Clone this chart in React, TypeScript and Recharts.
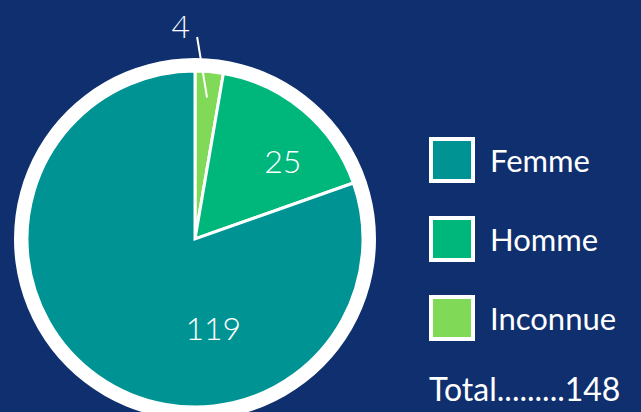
import { PieChart, Pie, Cell, Legend } from "recharts";

const categories = ["Inconnue", "Homme", "Femme"];
const values = [4, 25, 119];
const colors = ["#80d957", "#00b77b", "#009394"];
const legendOrder = ["Femme", "Homme", "Inconnue"];
const totalLabel = "Total.........148";

const data = categories.map((name, i) => ({ name, value: values[i] }));
const ring = [{ name: "ring", value: 1 }];

const BG = "#0f2f6e";
const RAD = Math.PI / 180;

// Excel-like "best fit" placements: [angle offset from mid, radius]
const labelPlace = [
  { angle: 8.7, r: 214 },
  { angle: -8, r: 118 },
  { angle: 47, r: 90 },
];

function renderLabel(props: any) {
  const { cx, cy, midAngle, index, value } = props;
  const p = labelPlace[index];
  const a = (midAngle + p.angle) * RAD;
  const x = cx + p.r * Math.cos(a);
  const y = cy - p.r * Math.sin(a);
  const common = {
    fill: "#ffffff",
    fontFamily: "Lato, sans-serif",
    fontWeight: 300,
    fontSize: 32,
    textAnchor: "middle" as const,
    dominantBaseline: "central" as const,
  };
  if (index === 0) {
    const m = midAngle * RAD;
    const x1 = cx + 142 * Math.cos(m);
    const y1 = cy - 142 * Math.sin(m);
    const x2 = cx + 202 * Math.cos(89.4 * RAD);
    const y2 = cy - 202 * Math.sin(89.4 * RAD);
    return (
      <g>
        <line x1={x1} y1={y1} x2={x2} y2={y2} stroke="#ffffff" strokeWidth={2} />
        <text x={x} y={y} {...common}>
          {value}
        </text>
      </g>
    );
  }
  return (
    <text x={x} y={y} {...common}>
      {value}
    </text>
  );
}

function LegendBox() {
  return (
    <div style={{ fontFamily: "Lato, sans-serif", color: "#ffffff" }}>
      {legendOrder.map((name) => {
        const i = categories.indexOf(name);
        return (
          <div
            key={name}
            style={{ display: "flex", alignItems: "center", height: 46, marginBottom: 33 }}
          >
            <div
              style={{
                width: 38,
                height: 38,
                border: "4px solid #ffffff",
                background: colors[i],
                marginRight: 15,
              }}
            />
            <span style={{ fontSize: 31 }}>{name}</span>
          </div>
        );
      })}
      <div style={{ fontSize: 32, lineHeight: 1, marginTop: -1 }}>{totalLabel}</div>
    </div>
  );
}

export default function App() {
  return (
    <div
      style={{
        position: "absolute",
        left: 0,
        top: 0,
        width: 641,
        height: 412,
        background: BG,
        overflow: "hidden",
      }}
    >
      <PieChart width={641} height={412} margin={{ top: 0, right: 0, bottom: 0, left: 0 }}>
        <Pie
          data={ring}
          dataKey="value"
          cx={195}
          cy={239}
          outerRadius={181}
          fill="#ffffff"
          stroke="none"
          isAnimationActive={false}
        />
        <Pie
          data={data}
          dataKey="value"
          cx={195}
          cy={239}
          outerRadius={168}
          startAngle={90}
          endAngle={-270}
          stroke="#ffffff"
          strokeWidth={3}
          label={renderLabel}
          labelLine={false}
          isAnimationActive={false}
        >
          {data.map((d, i) => (
            <Cell key={d.name} fill={colors[i]} />
          ))}
        </Pie>
        <Legend
          layout="vertical"
          content={() => <LegendBox />}
          wrapperStyle={{ position: "absolute", left: 429, top: 137, width: 212 }}
        />
      </PieChart>
    </div>
  );
}
